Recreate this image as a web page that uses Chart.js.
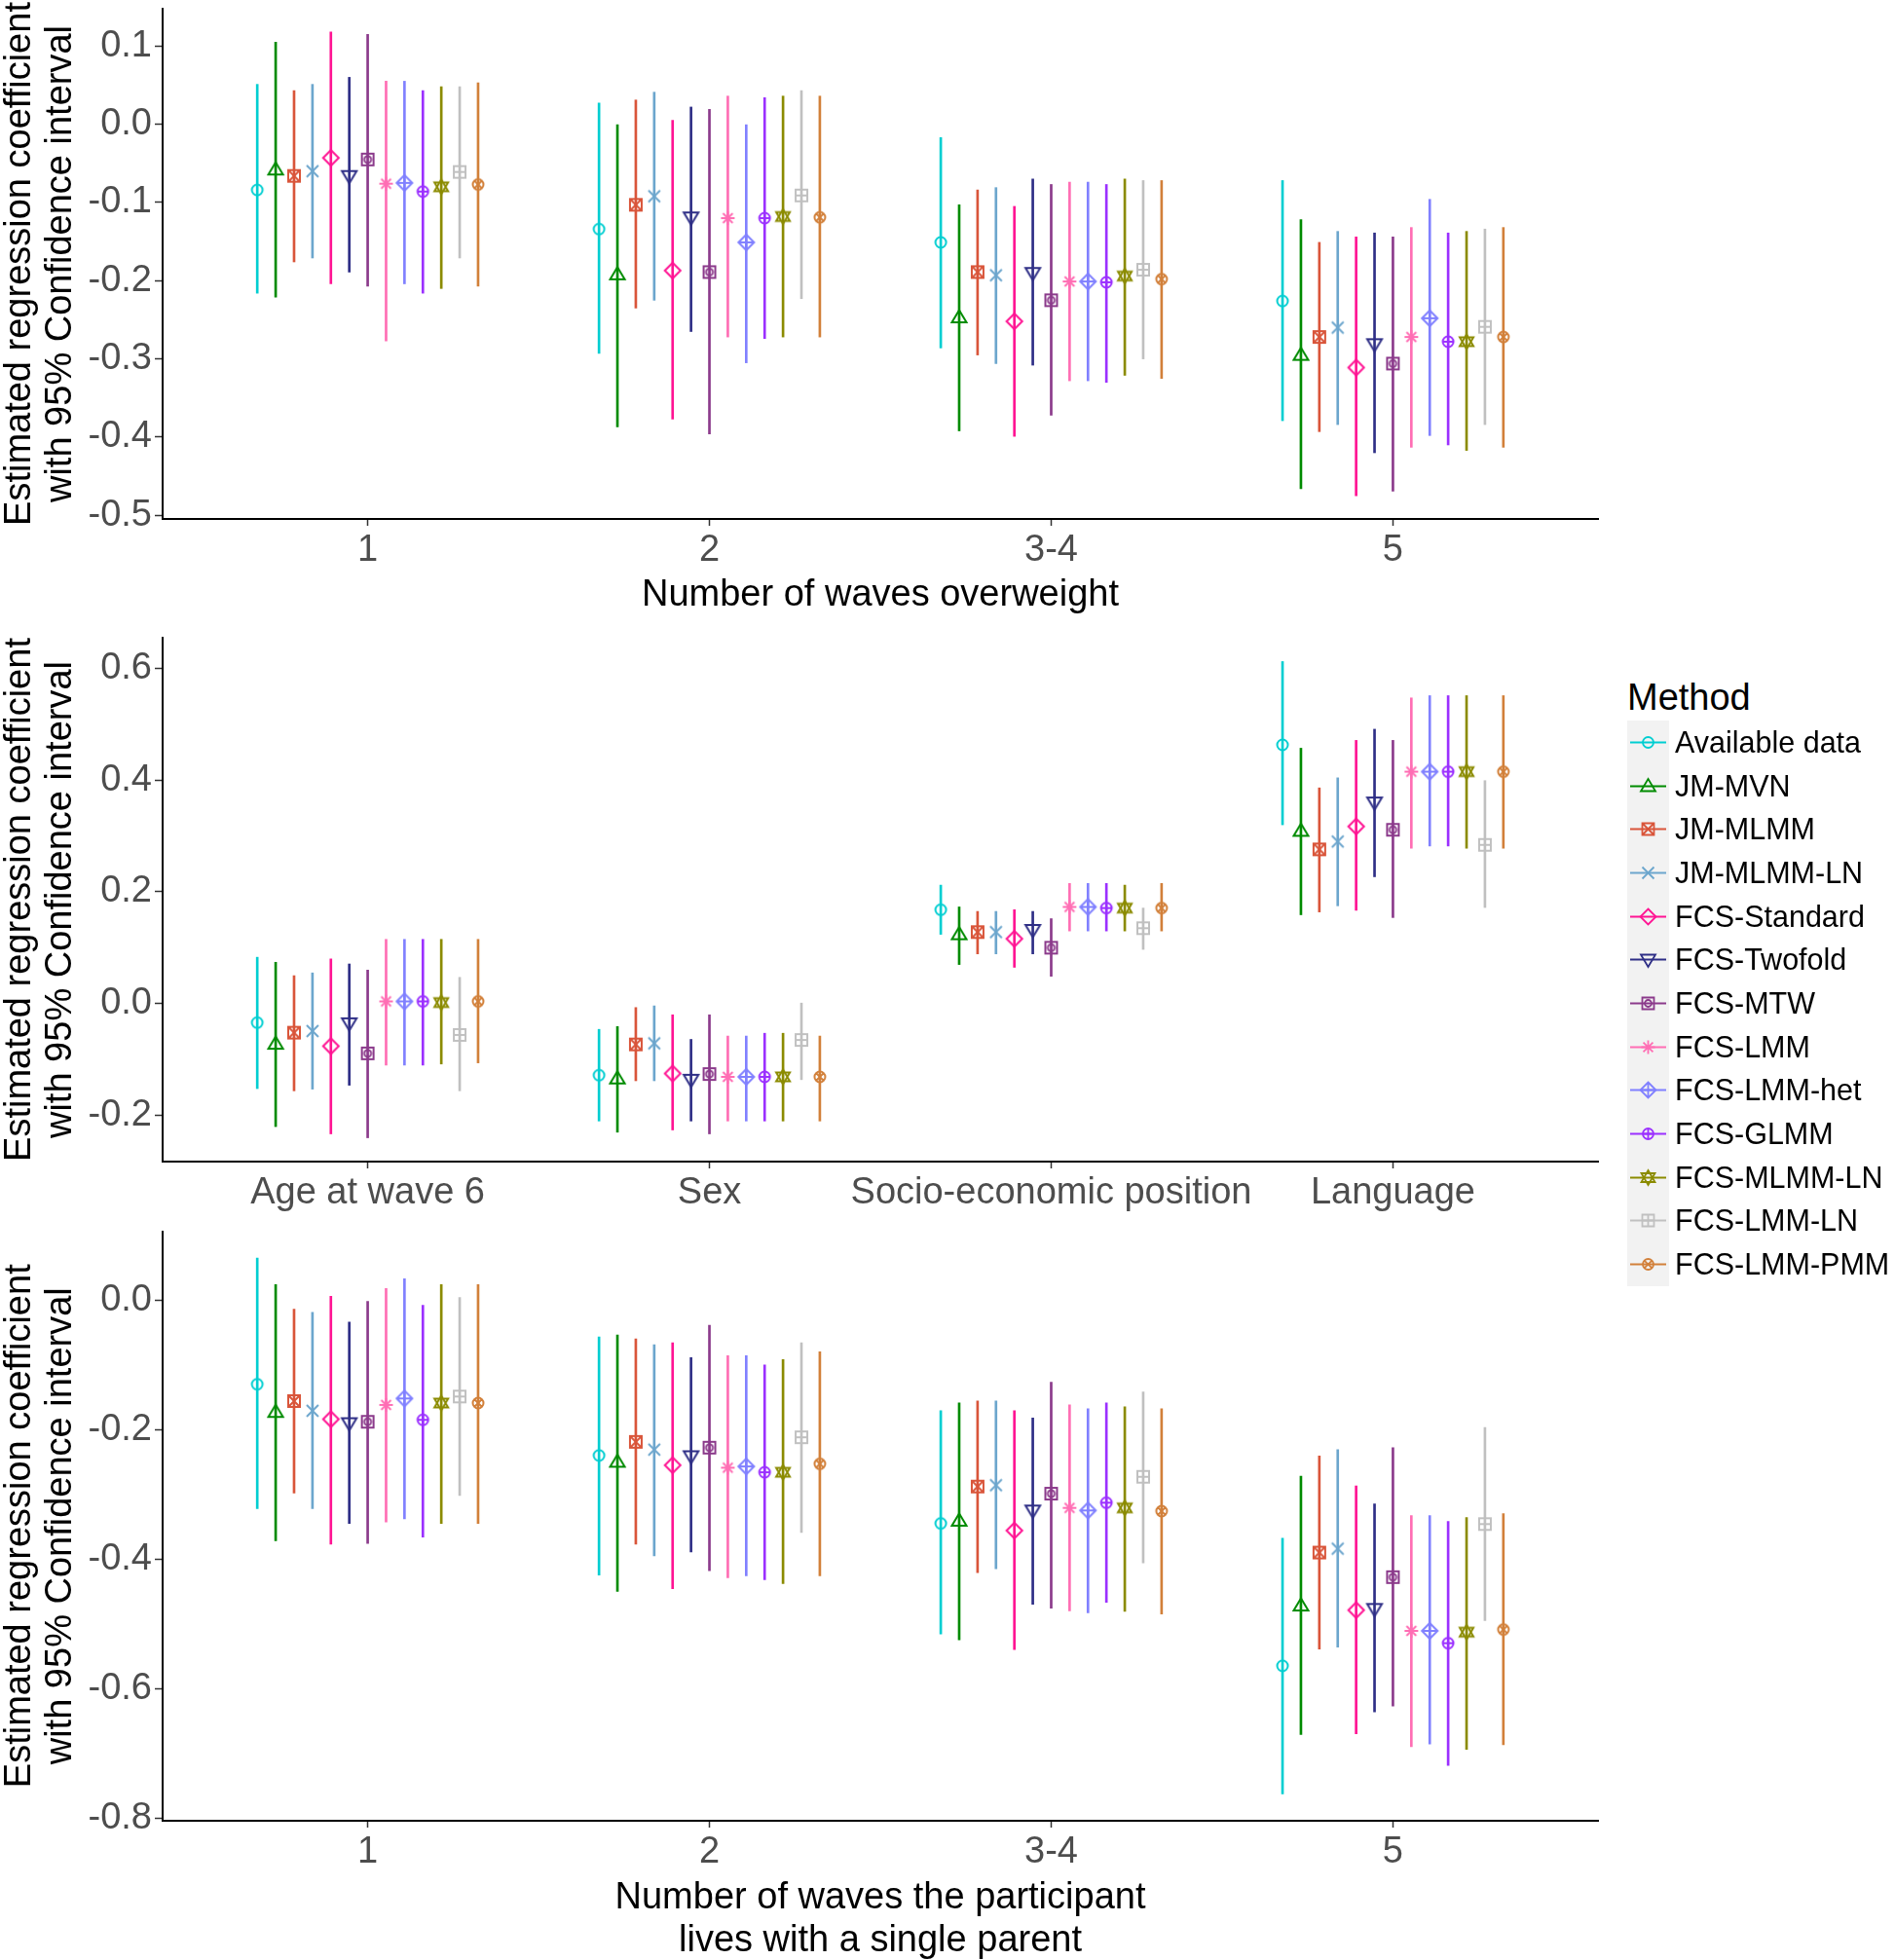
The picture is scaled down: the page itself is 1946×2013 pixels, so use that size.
<!DOCTYPE html>
<html><head><meta charset="utf-8">
<script src="https://cdn.jsdelivr.net/npm/chart.js@4.4.1/dist/chart.umd.min.js"></script>
<style>
html,body{margin:0;padding:0;background:#fff;}
#wrap{position:relative;width:1946px;height:2013px;overflow:hidden;font-family:"Liberation Sans",Arial,sans-serif;background:#fff;}
canvas.pan{position:absolute;left:0;}
#legend{position:absolute;left:1671px;top:692px;}
#legend .ttl{font-size:38px;height:48px;line-height:48px;color:#000;margin-left:0;}
#legend .row{height:44.7px;display:flex;align-items:center;}
#legend .row canvas{display:block;}
#legend .row span{font-size:30.5px;color:#000;margin-left:6px;white-space:nowrap;}
</style></head><body>
<div id="wrap">
<canvas id="c1" class="pan" width="1660" height="645" style="top:0"></canvas>
<canvas id="c2" class="pan" width="1660" height="600" style="top:645px"></canvas>
<canvas id="c3" class="pan" width="1660" height="772" style="top:1245px"></canvas>
<div id="legend"></div>
</div>
<script>
const METHODS = ['Available data','JM-MVN','JM-MLMM','JM-MLMM-LN','FCS-Standard','FCS-Twofold','FCS-MTW','FCS-LMM','FCS-LMM-het','FCS-GLMM','FCS-MLMM-LN','FCS-LMM-LN','FCS-LMM-PMM'];

// Panel 1: Number of waves overweight
const P1_CATS = ['1','2','3-4','5'];
const P1_TICKS = [0.1, 0.0, -0.1, -0.2, -0.3, -0.4, -0.5];
const P1_EST = [
 [-0.084,-0.134,-0.151,-0.226],[-0.058,-0.192,-0.247,-0.295],[-0.066,-0.103,-0.189,-0.272],[-0.060,-0.092,-0.193,-0.260],
 [-0.043,-0.187,-0.252,-0.311],[-0.066,-0.119,-0.190,-0.281],[-0.045,-0.189,-0.225,-0.306],[-0.076,-0.120,-0.201,-0.272],
 [-0.075,-0.151,-0.201,-0.248],[-0.086,-0.120,-0.202,-0.278],[-0.080,-0.118,-0.194,-0.278],[-0.061,-0.091,-0.186,-0.259],
 [-0.077,-0.119,-0.198,-0.272]];
const P1_LO = [
 [-0.216,-0.293,-0.286,-0.379],[-0.221,-0.387,-0.392,-0.466],[-0.176,-0.235,-0.295,-0.393],[-0.171,-0.225,-0.306,-0.384],
 [-0.204,-0.377,-0.399,-0.475],[-0.189,-0.265,-0.308,-0.420],[-0.207,-0.396,-0.372,-0.469],[-0.277,-0.272,-0.328,-0.413],
 [-0.204,-0.305,-0.328,-0.398],[-0.216,-0.274,-0.330,-0.410],[-0.210,-0.272,-0.321,-0.417],[-0.171,-0.223,-0.300,-0.384],
 [-0.207,-0.272,-0.325,-0.413]];
const P1_HI = [
 [0.051,0.027,-0.017,-0.072],[0.105,0.000,-0.103,-0.122],[0.043,0.031,-0.084,-0.151],[0.051,0.041,-0.081,-0.137],
 [0.118,0.005,-0.105,-0.144],[0.060,0.022,-0.070,-0.139],[0.115,0.019,-0.077,-0.144],[0.055,0.036,-0.074,-0.132],
 [0.055,0.000,-0.074,-0.096],[0.043,0.034,-0.077,-0.139],[0.048,0.036,-0.070,-0.137],[0.048,0.043,-0.072,-0.134],
 [0.053,0.036,-0.072,-0.132]];

// Panel 2: covariates
const P2_CATS = ['Age at wave 6','Sex','Socio-economic position','Language'];
const P2_TICKS = [0.6, 0.4, 0.2, 0.0, -0.2];
const P2_EST = [
 [-0.034,-0.128,0.168,0.463],[-0.072,-0.134,0.124,0.309],[-0.052,-0.073,0.128,0.276],[-0.049,-0.071,0.128,0.290],
 [-0.076,-0.125,0.116,0.317],[-0.035,-0.136,0.132,0.360],[-0.089,-0.126,0.100,0.311],[0.004,-0.131,0.173,0.415],
 [0.004,-0.131,0.173,0.415],[0.004,-0.131,0.171,0.415],[0.002,-0.131,0.171,0.415],[-0.056,-0.065,0.135,0.284],
 [0.004,-0.131,0.171,0.415]];
const P2_LO = [
 [-0.152,-0.210,0.124,0.320],[-0.220,-0.230,0.070,0.159],[-0.156,-0.138,0.089,0.164],[-0.153,-0.138,0.089,0.175],
 [-0.233,-0.226,0.065,0.167],[-0.146,-0.210,0.089,0.227],[-0.240,-0.233,0.049,0.154],[-0.110,-0.210,0.130,0.278],
 [-0.110,-0.210,0.130,0.282],[-0.110,-0.210,0.130,0.282],[-0.108,-0.210,0.130,0.278],[-0.156,-0.136,0.097,0.172],
 [-0.106,-0.210,0.130,0.278]];
const P2_HI = [
 [0.083,-0.046,0.212,0.612],[0.074,-0.041,0.173,0.457],[0.050,-0.007,0.165,0.386],[0.055,-0.004,0.165,0.404],
 [0.080,-0.020,0.168,0.471],[0.071,-0.064,0.165,0.491],[0.060,-0.020,0.152,0.471],[0.115,-0.058,0.215,0.547],
 [0.115,-0.058,0.215,0.551],[0.115,-0.053,0.215,0.551],[0.115,-0.053,0.212,0.551],[0.047,0.001,0.171,0.399],
 [0.115,-0.058,0.215,0.551]];

// Panel 3: Number of waves the participant lives with a single parent
const P3_CATS = ['1','2','3-4','5'];
const P3_TICKS = [0.0, -0.2, -0.4, -0.6, -0.8];
const P3_EST = [
 [-0.130,-0.240,-0.345,-0.565],[-0.173,-0.250,-0.341,-0.472],[-0.156,-0.219,-0.288,-0.390],[-0.171,-0.231,-0.286,-0.384],
 [-0.184,-0.255,-0.356,-0.479],[-0.190,-0.241,-0.325,-0.477],[-0.188,-0.228,-0.299,-0.428],[-0.162,-0.259,-0.321,-0.511],
 [-0.152,-0.257,-0.325,-0.511],[-0.185,-0.266,-0.313,-0.530],[-0.159,-0.266,-0.321,-0.513],[-0.149,-0.212,-0.273,-0.346],
 [-0.159,-0.253,-0.326,-0.509]];
const P3_LO = [
 [-0.322,-0.425,-0.516,-0.763],[-0.372,-0.450,-0.525,-0.671],[-0.298,-0.377,-0.421,-0.539],[-0.322,-0.395,-0.415,-0.536],
 [-0.377,-0.446,-0.540,-0.670],[-0.345,-0.389,-0.470,-0.636],[-0.376,-0.418,-0.476,-0.627],[-0.343,-0.429,-0.480,-0.690],
 [-0.338,-0.426,-0.483,-0.686],[-0.366,-0.432,-0.467,-0.719],[-0.345,-0.438,-0.481,-0.694],[-0.302,-0.359,-0.406,-0.495],
 [-0.345,-0.426,-0.485,-0.687]];
const P3_HI = [
 [0.065,-0.057,-0.171,-0.368],[0.024,-0.054,-0.159,-0.272],[-0.014,-0.060,-0.156,-0.241],[-0.019,-0.069,-0.156,-0.231],
 [0.006,-0.066,-0.171,-0.287],[-0.034,-0.089,-0.182,-0.315],[-0.002,-0.039,-0.127,-0.228],[0.018,-0.086,-0.162,-0.333],
 [0.033,-0.086,-0.168,-0.333],[-0.008,-0.100,-0.159,-0.342],[0.024,-0.092,-0.165,-0.336],[0.004,-0.066,-0.142,-0.197],
 [0.024,-0.080,-0.168,-0.330]];

const Y_TITLE = ['Estimated regression coefficient','with 95% Confidence interval'];
const X_TITLE_1 = 'Number of waves overweight';
const X_TITLE_3 = ['Number of waves the participant','lives with a single parent'];
const LEGEND_TITLE = 'Method';

// styles
const COLORS = ['#00CED1','#008B00','#D9553A','#6CA6CD','#FF1493','#2E2E86','#8B3A8B','#FF6EB4','#8080FF','#9B30FF','#8B8B00','#C0C0C0','#D2803A'];
const SHAPES = ['circle','triUp','squareX','x','diamond','triDown','squareCircle','asterisk','diamondPlus','circlePlus','david','squarePlus','circleX'];
const FONT = '"Liberation Sans", Arial, sans-serif';

function drawShape(g, shape) {
  const r = 5.5;
  g.beginPath();
  switch (shape) {
    case 'circle': g.arc(0,0,r,0,Math.PI*2); break;
    case 'triUp': g.moveTo(0,-7.5); g.lineTo(7.5,5); g.lineTo(-7.5,5); g.closePath(); break;
    case 'triDown': g.moveTo(0,7.5); g.lineTo(7.5,-5); g.lineTo(-7.5,-5); g.closePath(); break;
    case 'squareX': g.rect(-6,-6,12,12); g.moveTo(-6,-6); g.lineTo(6,6); g.moveTo(6,-6); g.lineTo(-6,6); break;
    case 'squareCircle': g.rect(-6,-6,12,12); g.moveTo(3.5,0); g.arc(0,0,3.5,0,Math.PI*2); break;
    case 'squarePlus': g.rect(-6,-6,12,12); g.moveTo(-6,0); g.lineTo(6,0); g.moveTo(0,-6); g.lineTo(0,6); break;
    case 'x': g.moveTo(-6,-6); g.lineTo(6,6); g.moveTo(6,-6); g.lineTo(-6,6); break;
    case 'diamond': g.moveTo(0,-8); g.lineTo(8,0); g.lineTo(0,8); g.lineTo(-8,0); g.closePath(); break;
    case 'diamondPlus': g.moveTo(0,-8); g.lineTo(8,0); g.lineTo(0,8); g.lineTo(-8,0); g.closePath(); g.moveTo(-8,0); g.lineTo(8,0); g.moveTo(0,-8); g.lineTo(0,8); break;
    case 'circlePlus': g.arc(0,0,r,0,Math.PI*2); g.moveTo(-r,0); g.lineTo(r,0); g.moveTo(0,-r); g.lineTo(0,r); break;
    case 'circleX': { g.arc(0,0,r,0,Math.PI*2); const d=r*0.72; g.moveTo(-d,-d); g.lineTo(d,d); g.moveTo(d,-d); g.lineTo(-d,d); break; }
    case 'asterisk': for (let k=0;k<4;k++){ const a=k*Math.PI/4; g.moveTo(-7*Math.cos(a),-7*Math.sin(a)); g.lineTo(7*Math.cos(a),7*Math.sin(a)); } break;
    case 'david': g.moveTo(0,-7.5); g.lineTo(7,4.5); g.lineTo(-7,4.5); g.closePath(); g.moveTo(0,7.5); g.lineTo(7,-4.5); g.lineTo(-7,-4.5); g.closePath(); break;
  }
  g.stroke();
}
function makeMarker(shape, color) {
  const s = 24, c = document.createElement('canvas');
  c.width = s; c.height = s;
  const g = c.getContext('2d');
  g.strokeStyle = color; g.lineWidth = 2; g.translate(s/2, s/2);
  drawShape(g, shape);
  return c;
}
const MARKERS = METHODS.map((m,i) => makeMarker(SHAPES[i], COLORS[i]));

function buildPanel(id, cats, est, lo, hi, ticks, xTitle, dims) {
  const n = METHODS.length, DODGE = 0.7;
  const allLo = Math.min(...lo.flat()), allHi = Math.max(...hi.flat());
  const pad = (allHi - allLo) * 0.05;
  const datasets = [];
  METHODS.forEach((m, i) => {
    const off = (i - (n - 1) / 2) * DODGE / n;
    datasets.push({
      type: 'bar', label: m + ' 95% CI', order: 2,
      data: cats.map((c, j) => ({ x: j + 1 + off, y: [lo[i][j], hi[i][j]] })),
      backgroundColor: COLORS[i], borderWidth: 0, barThickness: 2, grouped: false
    });
    datasets.push({
      type: 'scatter', label: m, order: 1,
      data: cats.map((c, j) => ({ x: j + 1 + off, y: est[i][j] })),
      pointStyle: MARKERS[i], pointRadius: 8, showLine: false
    });
  });
  return new Chart(document.getElementById(id), {
    type: 'scatter',
    data: { datasets },
    options: {
      responsive: false, animation: false, devicePixelRatio: 1,
      layout: { padding: { top: dims.pt, right: 19, left: 0, bottom: 0 } },
      plugins: { legend: { display: false }, tooltip: { enabled: false } },
      scales: {
        x: {
          type: 'linear', min: 0.4, max: 4.6, offset: false,
          afterBuildTicks: s => { s.ticks = cats.map((c, j) => ({ value: j + 1 })); },
          afterFit: s => { s.height = dims.xh; },
          ticks: { callback: v => cats[Math.round(v) - 1], font: { size: 38, family: FONT }, color: '#4D4D4D', padding: 3, autoSkip: false, maxRotation: 0 },
          grid: { offset: false, drawOnChartArea: false, drawTicks: true, tickLength: 7, tickColor: '#333333', tickWidth: 1.5 },
          border: { display: true, color: '#000000', width: 2 },
          title: xTitle ? { display: true, text: xTitle, color: '#000', font: { size: 38, family: FONT, lineHeight: 1.15 }, padding: { top: 0, bottom: dims.tb } } : { display: false }
        },
        y: {
          type: 'linear', min: allLo - pad, max: allHi + pad,
          afterBuildTicks: s => { s.ticks = ticks.map(v => ({ value: v })); },
          afterFit: s => { s.width = 167; },
          ticks: { callback: v => v.toFixed(1), font: { size: 38, family: FONT, lineHeight: 0.05 }, color: '#4D4D4D', padding: 3 },
          grid: { offset: false, drawOnChartArea: false, drawTicks: true, tickLength: 8, tickColor: '#333333', tickWidth: 1.5 },
          border: { display: true, color: '#000000', width: 2 },
          title: { display: true, text: Y_TITLE, color: '#000', font: { size: 38, family: FONT, lineHeight: 1.1 }, padding: { top: 0, bottom: 0 } }
        }
      }
    }
  });
}

buildPanel('c1', P1_CATS, P1_EST, P1_LO, P1_HI, P1_TICKS, X_TITLE_1, { pt: 5, xh: 112, tb: 12 });
buildPanel('c2', P2_CATS, P2_EST, P2_LO, P2_HI, P2_TICKS, null, { pt: 10, xh: 52, tb: 0 });
buildPanel('c3', P3_CATS, P3_EST, P3_LO, P3_HI, P3_TICKS, X_TITLE_3, { pt: 19.5, xh: 147, tb: 1.5 });

// legend
const leg = document.getElementById('legend');
const t = document.createElement('div'); t.className = 'ttl'; t.textContent = LEGEND_TITLE; leg.appendChild(t);
METHODS.forEach((m, i) => {
  const row = document.createElement('div'); row.className = 'row';
  const c = document.createElement('canvas'); c.width = 43; c.height = 45;
  const g = c.getContext('2d');
  g.fillStyle = '#F2F2F2'; g.fillRect(0, 0, 43, 45);
  g.strokeStyle = COLORS[i]; g.lineWidth = 2;
  g.beginPath(); g.moveTo(3, 22.5); g.lineTo(40, 22.5); g.stroke();
  g.lineWidth = 1.8; g.translate(21.5, 22.5); drawShape(g, SHAPES[i]);
  const sp = document.createElement('span'); sp.textContent = m;
  row.appendChild(c); row.appendChild(sp); leg.appendChild(row);
});
</script>
</body></html>
